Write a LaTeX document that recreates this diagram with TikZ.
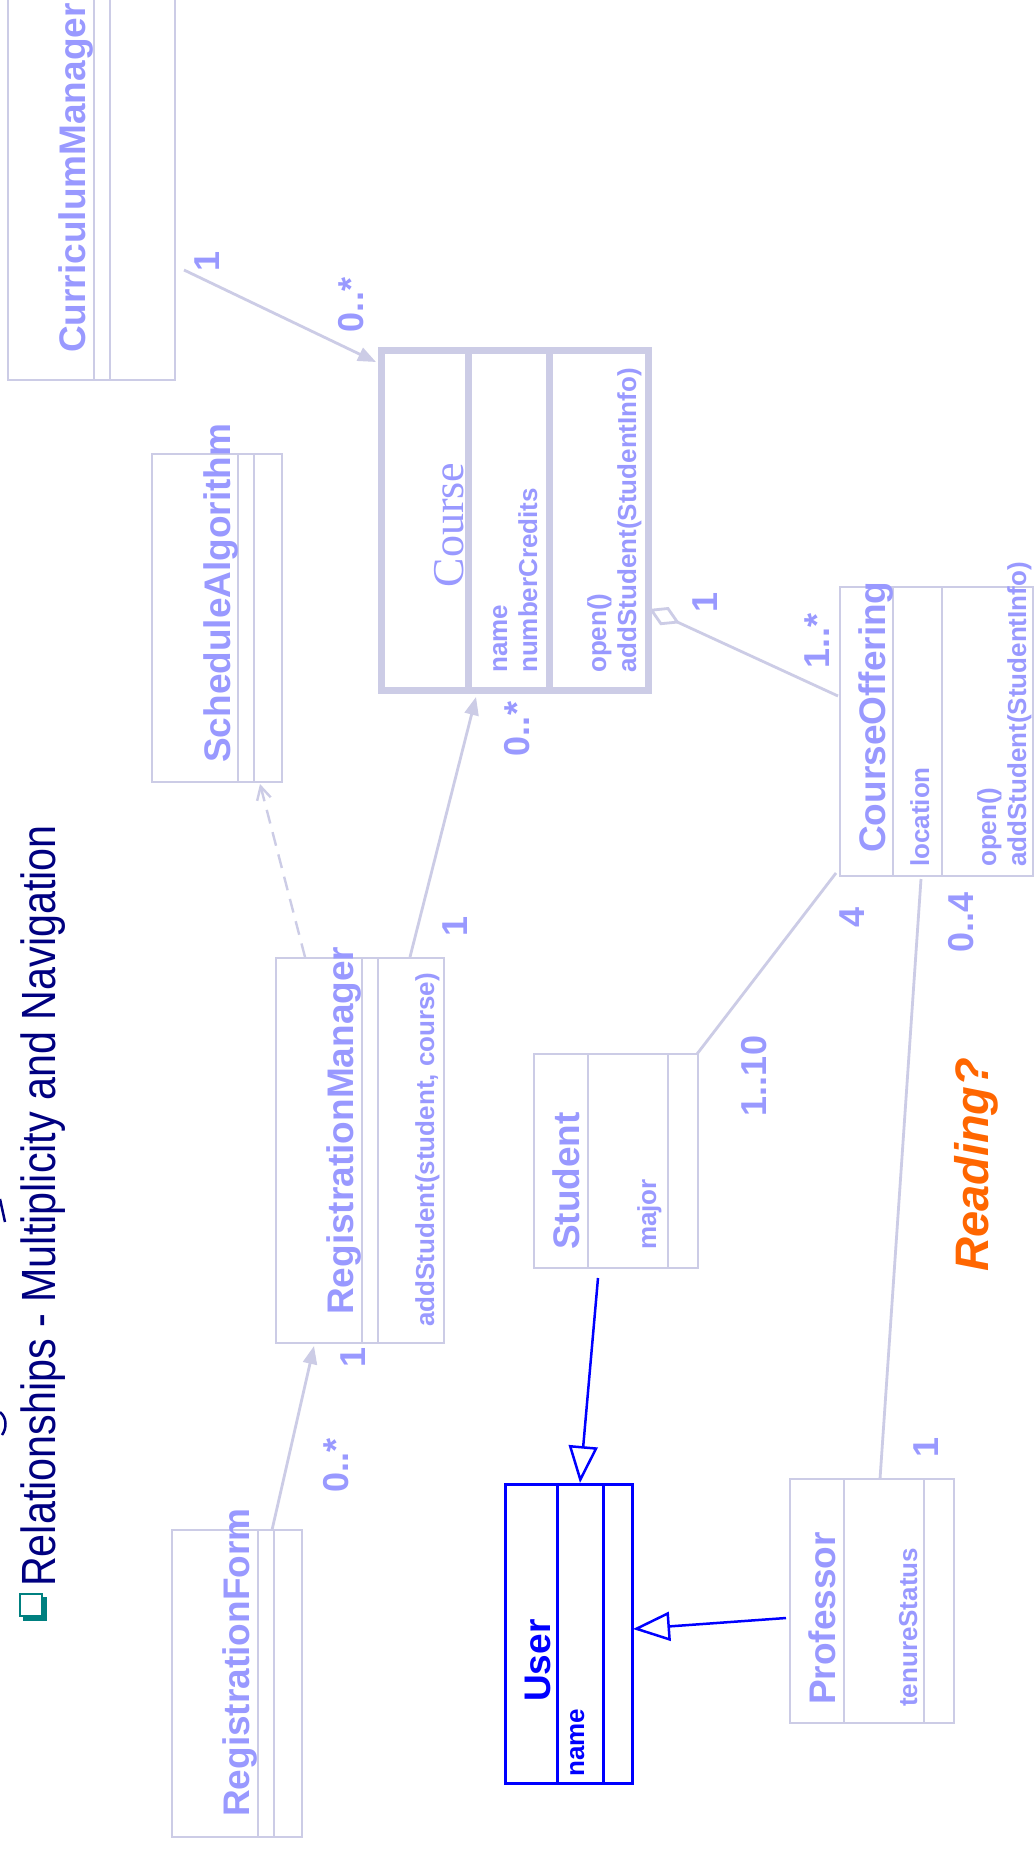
\documentclass[tikz,border=0pt]{standalone}
\usepackage{fontspec}
\setmainfont{Liberation Sans}
\newfontfamily\serifface{Liberation Serif}
\newfontfamily\titleface[FakeStretch=0.86]{Liberation Sans}
\usetikzlibrary{arrows.meta,calc}
\definecolor{umlline}{RGB}{204,204,230}
\definecolor{umltext}{RGB}{153,153,255}
\definecolor{titlenavy}{RGB}{0,0,128}
\definecolor{bulletteal}{RGB}{0,128,128}
\definecolor{readorange}{RGB}{255,102,0}
\definecolor{userblue}{RGB}{0,0,255}
\begin{document}
\begin{tikzpicture}[x=1pt,y=-1pt,
  box/.style={draw=umlline, line width=2.8pt, inner sep=0pt, outer sep=0pt, rectangle},
  part/.style={draw=umlline, line width=2.8pt},
  ubox/.style={draw=userblue, line width=3pt, inner sep=0pt, outer sep=0pt, rectangle},
  upart/.style={draw=userblue, line width=3pt},
  cname/.style={rotate=90, anchor=base west, inner sep=0pt, text=umltext,
    font=\fontsize{37}{40}\selectfont\bfseries},
  member/.style={rotate=90, anchor=base west, inner sep=0pt, text=umltext,
    font=\fontsize{26}{30}\selectfont\bfseries},
  mult/.style={rotate=90, anchor=center, inner sep=0pt, text=umltext,
    font=\fontsize{36}{38}\selectfont\bfseries},
  assoc/.style={draw=umlline, line width=2.8pt},
  navarrow/.style={-{Triangle[length=18pt,width=14pt]}},
  depend/.style={draw=umlline, line width=2.4pt, dash pattern=on 14pt off 9pt,
    -{Straight Barb[length=13pt,width=14pt]}},
  gen/.style={draw=userblue, line width=2.5pt,
    -{Triangle[open,length=37pt,width=29pt,fill=white]}},
  aggr/.style={draw=umlline, line width=2.8pt,
    {Diamond[open,length=34pt,width=20pt,fill=white]}-}
]
\clip (0,0) rectangle (1035,1851);
\fill[white] (0,0) rectangle (1035,1851);

% ---- heading ----
\draw[titlenavy, line width=2.5pt] (0,1199) -- (5,1222);
\draw[titlenavy, line width=2.5pt] (0,1412) .. controls (7,1418) and (7,1428) .. (2,1435);
\draw[bulletteal, line width=2pt] (20,1594) rectangle (42,1616);
\fill[bulletteal] (41,1597) rectangle (47,1621);
\fill[bulletteal] (23,1615) rectangle (47,1621);
\node[rotate=90, anchor=base west, inner sep=0pt, text=titlenavy,
  font=\titleface\fontsize{48}{52}\selectfont] (title) at (55,1587)
  {Relationships - Multiplicity and Navigation};

% ---- class boxes ----
\node[box, minimum width=167pt, minimum height=440pt] (cm) at (91.5,160) {};
\draw[part] (94,-60) -- (94,380);
\draw[part] (110,-60) -- (110,380);

\node[box, minimum width=130pt, minimum height=328pt] (sa) at (217,618) {};
\draw[part] (238,454) -- (238,782);
\draw[part] (254,454) -- (254,782);

\node[box, line width=7pt, minimum width=267pt, minimum height=340.5pt] (course) at (515,520.25) {};
\draw[part, line width=7pt] (468.5,350) -- (468.5,690.5);
\draw[part, line width=7pt] (549.5,350) -- (549.5,690.5);

\node[box, minimum width=168pt, minimum height=385pt] (rm) at (360,1150.5) {};
\draw[part] (362,958) -- (362,1343);
\draw[part] (378,958) -- (378,1343);

\node[box, minimum width=130pt, minimum height=307pt] (rf) at (237,1683.5) {};
\draw[part] (258,1530) -- (258,1837);
\draw[part] (274,1530) -- (274,1837);

\node[box, minimum width=164pt, minimum height=214pt] (student) at (616,1161) {};
\draw[part] (588,1054) -- (588,1268);
\draw[part] (668,1054) -- (668,1268);

\node[box, minimum width=193pt, minimum height=289pt] (co) at (936.5,731.5) {};
\draw[part] (893,587) -- (893,876);
\draw[part] (942,587) -- (942,876);

\node[box, minimum width=164pt, minimum height=244pt] (prof) at (872,1601) {};
\draw[part] (844,1479) -- (844,1723);
\draw[part] (924,1479) -- (924,1723);

\node[ubox, minimum width=127pt, minimum height=299pt] (user) at (568.5,1633.5) {};
\draw[upart] (557,1484) -- (557,1783);
\draw[upart] (603,1484) -- (603,1783);

% ---- class texts ----
\node[cname] (cmName) at (85,353) {CurriculumManager};
\node[cname] (saName) at (230,763) {ScheduleAlgorithm};
\node[rotate=90, anchor=base, inner sep=0pt, text=umltext,
  font=\serifface\fontsize{44}{48}\selectfont] (courseName) at (463,525) {Course};
\node[member] (courseA1) at (507,673) {name};
\node[member] (courseA2) at (537,673) {numberCredits};
\node[member] (courseO1) at (606,673) {open()};
\node[member] (courseO2) at (636,673) {addStudent(StudentInfo)};
\node[cname] (rmName) at (353,1315) {RegistrationManager};
\node[member] (rmO1) at (434,1327) {addStudent(student, course)};
\node[cname] (rfName) at (249,1817) {RegistrationForm};
\node[cname] (studentName) at (579,1250) {Student};
\node[member] (studentA1) at (656,1250) {major};
\node[cname] (coName) at (885,853) {CourseOffering};
\node[member] (coA1) at (929,867) {location};
\node[member] (coO1) at (996,867) {open()};
\node[member] (coO2) at (1026,867) {addStudent(StudentInfo)};
\node[cname] (profName) at (835,1705) {Professor};
\node[member] (profA1) at (917,1707) {tenureStatus};
\node[cname, text=userblue] (userName) at (550,1702) {User};
\node[member, text=userblue] (userA1) at (584,1777) {name};

% ---- connector ends ----
\coordinate (cmEnd) at (184,270);
\coordinate (courseTL) at (376,362);
\coordinate (rmTopL) at (305,957);
\coordinate (saBottom) at (260,784);
\coordinate (rmTopR) at (410,957);
\coordinate (courseBottom) at (476,697);
\coordinate (rfTop) at (272,1530);
\coordinate (rmBottom) at (314,1346);
\coordinate (courseRight) at (649,609);
\coordinate (coLeft) at (838,696);
\coordinate (studentTR) at (697,1054);
\coordinate (coBL) at (836,873);
\coordinate (coBottom) at (921,879);
\coordinate (profTop) at (880,1479);
\coordinate (studentBottom) at (598,1278);
\coordinate (userTop) at (580,1483);
\coordinate (profLeft) at (786,1618);
\coordinate (userRight) at (633,1629);

% ---- relationships ----
\draw[assoc, navarrow] (cmEnd) -- (courseTL);
\draw[depend] (rmTopL) -- (saBottom);
\draw[assoc, navarrow] (rmTopR) -- (courseBottom);
\draw[assoc, navarrow] (rfTop) -- (rmBottom);
\draw[aggr] (courseRight) -- (coLeft);
\draw[assoc] (studentTR) -- (coBL);
\draw[assoc] (coBottom) -- (profTop);
\draw[gen] (studentBottom) -- (userTop);
\draw[gen] (profLeft) -- (userRight);

% ---- multiplicities ----
\node[mult] (m1) at (207,261) {1};
\node[mult] (m2) at (351,305) {0..*};
\node[mult] (m3) at (455,926) {1};
\node[mult] (m4) at (517,729) {0..*};
\node[mult] (m5) at (353,1357) {1};
\node[mult] (m6) at (336,1465) {0..*};
\node[mult] (m7) at (705,602) {1};
\node[mult] (m8) at (817,641) {1..*};
\node[mult] (m9) at (852,917) {4};
\node[mult] (m10) at (754,1076) {1..10};
\node[mult] (m11) at (961,922) {0..4};
\node[mult] (m12) at (926,1447) {1};

% ---- prompt ----
\node[rotate=90, anchor=base west, inner sep=0pt, text=readorange,
  font=\fontsize{47}{50}\selectfont\bfseries\itshape] (reading) at (988,1272) {Reading?};
\end{tikzpicture}
\end{document}
